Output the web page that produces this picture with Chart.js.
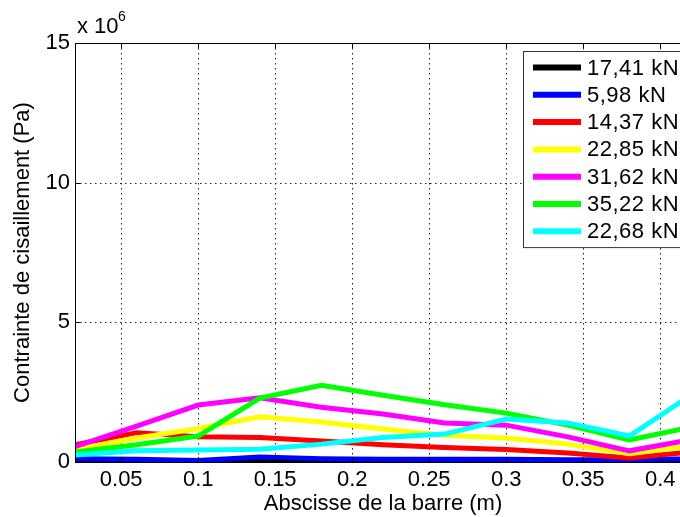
<!DOCTYPE html>
<html>
<head>
<meta charset="utf-8">
<script src="https://cdn.jsdelivr.net/npm/chart.js@4.4.1/dist/chart.umd.min.js"></script>
<style>
html, body { margin: 0; padding: 0; background: #fff; overflow: hidden; }
#wrap { position: relative; width: 700px; height: 517px; }
</style>
</head>
<body>
<div id="wrap"><canvas id="shearChart" width="700" height="517"></canvas></div>
<script>
/* abscisses des points de mesure (m) */
const abscisses = [0.02, 0.06, 0.1, 0.14, 0.18, 0.22, 0.26, 0.3, 0.34, 0.38, 0.42];

/* contrainte de cisaillement par charge, en 10^6 Pa */
const load1741 = [0.02, 0.02, 0.02, 0.06, 0.03, 0.02, 0.02, 0.02, 0.02, 0.02, 0.02];
const load598  = [0.12, 0.10, 0.05, 0.18, 0.12, 0.10, 0.10, 0.10, 0.08, 0.08, 0.12];
const load1437 = [0.62, 1.05, 0.90, 0.88, 0.75, 0.62, 0.52, 0.45, 0.32, 0.14, 0.36];
const load2285 = [0.45, 0.86, 1.20, 1.62, 1.43, 1.18, 0.96, 0.86, 0.64, 0.30, 0.58];
const load3162 = [0.55, 1.28, 2.04, 2.30, 1.96, 1.72, 1.40, 1.32, 0.90, 0.40, 0.80];
const load3522 = [0.36, 0.62, 0.93, 2.29, 2.75, 2.39, 2.05, 1.75, 1.32, 0.79, 1.25];
const load2268 = [0.25, 0.40, 0.43, 0.46, 0.64, 0.88, 1.00, 1.54, 1.40, 0.93, 2.40];

const loadLabels = ["17,41 kN", "5,98 kN", "14,37 kN", "22,85 kN", "31,62 kN", "35,22 kN", "22,68 kN"];
const loadSeries = [load1741, load598, load1437, load2285, load3162, load3522, load2268];
const loadColors = ["#000000", "#0000ff", "#ff0000", "#ffff00", "#ff00ff", "#00ff00", "#00ffff"];

const xTicks = [0.05, 0.1, 0.15, 0.2, 0.25, 0.3, 0.35, 0.4];
const yTicks = [0, 5, 10, 15];

const FONT = "'Liberation Sans', Arial, Helvetica, sans-serif";

// cadre, grille pointillée et petites graduations façon matlab
const framePlugin = {
  id: "frame",
  beforeDatasetsDraw(chart) {
    const { ctx, chartArea: a, scales } = chart;
    ctx.save();
    ctx.strokeStyle = "#222";
    ctx.lineWidth = 1;
    ctx.setLineDash([1.5, 3.5]);
    xTicks.forEach(v => {
      const px = Math.round(scales.x.getPixelForValue(v)) + 0.5;
      ctx.beginPath(); ctx.moveTo(px, a.top); ctx.lineTo(px, a.bottom); ctx.stroke();
    });
    yTicks.slice(1, -1).forEach(v => {
      const py = Math.round(scales.y.getPixelForValue(v)) + 0.5;
      ctx.beginPath(); ctx.moveTo(a.left, py); ctx.lineTo(a.right, py); ctx.stroke();
    });
    ctx.restore();
  },
  afterDatasetsDraw(chart) {
    const { ctx, chartArea: a, scales } = chart;
    ctx.save();
    ctx.strokeStyle = "#000";
    ctx.lineWidth = 1;
    ctx.strokeRect(Math.round(a.left) + 0.5, Math.round(a.top) + 0.5,
                   Math.round(a.right - a.left), Math.round(a.bottom - a.top));
    xTicks.forEach(v => {
      const px = Math.round(scales.x.getPixelForValue(v)) + 0.5;
      ctx.beginPath();
      ctx.moveTo(px, a.top); ctx.lineTo(px, a.top + 5);
      ctx.moveTo(px, a.bottom); ctx.lineTo(px, a.bottom - 5);
      ctx.stroke();
    });
    yTicks.forEach(v => {
      const py = Math.round(scales.y.getPixelForValue(v)) + 0.5;
      ctx.beginPath(); ctx.moveTo(a.left, py); ctx.lineTo(a.left + 5, py); ctx.stroke();
    });
    // facteur d'échelle de l'axe y
    ctx.fillStyle = "#000";
    ctx.textBaseline = "alphabetic";
    ctx.textAlign = "left";
    ctx.font = "22px " + FONT;
    ctx.fillText("x 10", a.left + 2, a.top - 10);
    ctx.font = "14px " + FONT;
    ctx.fillText("6", a.left + 43, a.top - 22);
    ctx.restore();
  },
  afterDraw(chart) {
    // légende dans le coin supérieur droit
    const { ctx, chartArea: a } = chart;
    const boxX = 523.5, boxY = a.top + 8.5, boxW = a.right - 8 - 523, rowH = 27.3;
    const boxH = loadLabels.length * rowH + 5;
    ctx.save();
    ctx.fillStyle = "#fff";
    ctx.fillRect(boxX, boxY, boxW, boxH);
    ctx.strokeStyle = "#333";
    ctx.lineWidth = 1;
    ctx.strokeRect(boxX, boxY, boxW, boxH);
    ctx.font = "22px " + FONT;
    ctx.letterSpacing = "0.5px";
    ctx.textBaseline = "middle";
    ctx.textAlign = "left";
    loadLabels.forEach((lab, i) => {
      const y = boxY + 16 + i * rowH;
      ctx.strokeStyle = loadColors[i];
      ctx.lineWidth = 6;
      ctx.beginPath(); ctx.moveTo(533, y); ctx.lineTo(581, y); ctx.stroke();
      ctx.fillStyle = "#000";
      ctx.fillText(lab, 587, y + 1);
    });
    ctx.restore();
  }
};

new Chart(document.getElementById("shearChart"), {
  type: "line",
  data: {
    labels: abscisses,
    datasets: loadSeries.map((serie, i) => ({
      label: loadLabels[i],
      data: serie.map((v, k) => ({ x: abscisses[k], y: v })),
      borderColor: loadColors[i],
      backgroundColor: loadColors[i],
      borderWidth: 5,
      pointRadius: 0,
      tension: 0,
      fill: false,
      order: loadSeries.length - i
    }))
  },
  options: {
    responsive: false,
    animation: false,
    events: [],
    layout: { padding: { left: 10, top: 43, right: 9, bottom: 0 } },
    plugins: { legend: { display: false }, tooltip: { enabled: false } },
    scales: {
      x: {
        type: "linear",
        min: 0.02,
        max: 0.42,
        afterBuildTicks: s => { s.ticks = xTicks.map(v => ({ value: v })); },
        afterFit: s => { s.height = 55; },
        grid: { display: false, drawTicks: false },
        border: { display: false },
        ticks: {
          color: "#000",
          padding: 5,
          maxRotation: 0,
          autoSkip: false,
          font: { family: FONT, size: 22 },
          callback: v => String(v)
        },
        title: {
          display: true,
          text: "Abscisse de la barre (m)",
          color: "#000",
          padding: { top: 0, bottom: 0 },
          font: { family: FONT, size: 22 }
        }
      },
      y: {
        min: 0,
        max: 15,
        afterBuildTicks: s => { s.ticks = yTicks.map(v => ({ value: v })); },
        afterFit: s => { s.width = 65; },
        grid: { display: false, drawTicks: false },
        border: { display: false },
        ticks: {
          color: "#000",
          padding: 5,
          font: { family: FONT, size: 22 }
        },
        title: {
          display: true,
          text: "Contrainte de cisaillement (Pa)",
          color: "#000",
          padding: { top: 0, bottom: 0 },
          font: { family: FONT, size: 22 }
        }
      }
    }
  },
  plugins: [framePlugin]
});
</script>
</body>
</html>
